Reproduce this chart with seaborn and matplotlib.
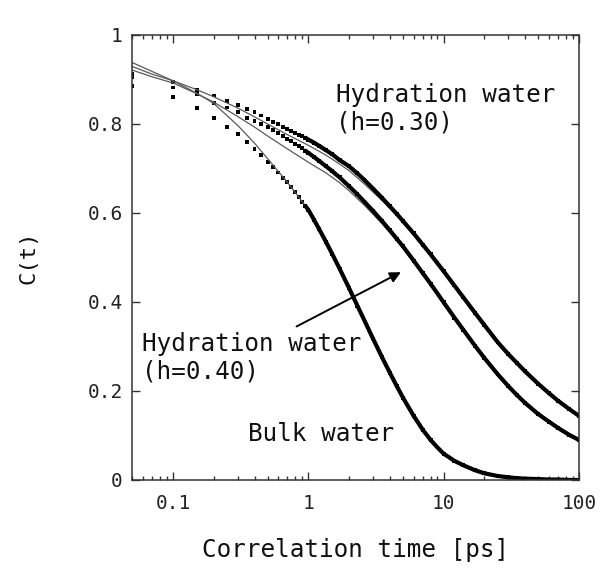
import numpy as np
import pandas as pd
import seaborn as sns
import matplotlib.pyplot as plt
from matplotlib.ticker import FixedLocator, FixedFormatter, LogLocator, NullFormatter

#########################
# VALUES
# MD points: correlation time [ps] and C(t)
t_md = [0.05, 0.10, 0.15, 0.20, 0.25, 0.30, 0.35, 0.40, 0.45, 0.50,
        0.55, 0.60, 0.65, 0.70, 0.75, 0.80, 0.85, 0.90, 0.95, 1.0,
        1.1, 1.2, 1.35, 1.5, 1.7, 2.0, 2.3, 2.6, 3.0, 3.5,
        4.0, 4.5, 5.0, 6.0, 7.0, 8.0, 9.0, 10, 12, 14,
        17, 20, 25, 30, 35, 40, 50, 60, 70, 85, 100]
c_h030 = [0.913, 0.895, 0.877, 0.864, 0.852, 0.843, 0.834, 0.826, 0.819, 0.811,
          0.805, 0.800, 0.794, 0.788, 0.784, 0.780, 0.776, 0.772, 0.769, 0.765,
          0.758, 0.751, 0.741, 0.732, 0.719, 0.705, 0.689, 0.674, 0.655, 0.634,
          0.615, 0.598, 0.582, 0.554, 0.529, 0.507, 0.487, 0.469, 0.437, 0.410,
          0.376, 0.348, 0.310, 0.283, 0.262, 0.244, 0.216, 0.195, 0.178, 0.159, 0.144]
c_h040 = [0.906, 0.882, 0.867, 0.848, 0.837, 0.826, 0.814, 0.807, 0.800, 0.793,
          0.786, 0.779, 0.773, 0.767, 0.762, 0.756, 0.750, 0.745, 0.740, 0.735,
          0.726, 0.717, 0.705, 0.694, 0.680, 0.660, 0.642, 0.625, 0.605, 0.582,
          0.561, 0.542, 0.525, 0.493, 0.465, 0.441, 0.419, 0.399, 0.365, 0.337,
          0.302, 0.274, 0.238, 0.211, 0.190, 0.173, 0.148, 0.131, 0.117, 0.101, 0.090]
c_bulk = [0.885, 0.860, 0.835, 0.813, 0.793, 0.777, 0.760, 0.743, 0.730, 0.715,
          0.703, 0.691, 0.679, 0.669, 0.658, 0.647, 0.635, 0.625, 0.616, 0.607,
          0.585, 0.564, 0.535, 0.508, 0.475, 0.431, 0.392, 0.358, 0.318, 0.276,
          0.241, 0.211, 0.185, 0.144, 0.113, 0.090, 0.073, 0.059, 0.043, 0.033,
          0.022, 0.015, 0.009, 0.006, 0.004, 0.003, 0.002, 0.001, 0.001, 0.000, 0.000]

# fitted curves (thin grey lines)
t_fit = [0.05, 0.07, 0.1, 0.15, 0.2, 0.3, 0.4, 0.5, 0.7, 1.0,
         1.35, 1.7, 2.0, 2.6, 3.5, 4.5, 6, 8, 10, 14,
         20, 30, 40, 60, 100]
fit_h030 = [0.929, 0.912, 0.897, 0.877, 0.861, 0.836, 0.816, 0.800, 0.776, 0.752,
            0.730, 0.710, 0.695, 0.665, 0.628, 0.594, 0.552, 0.506, 0.468, 0.410,
            0.348, 0.284, 0.244, 0.195, 0.144]
fit_h040 = [0.921, 0.906, 0.892, 0.868, 0.849, 0.817, 0.793, 0.773, 0.744, 0.714,
            0.690, 0.668, 0.650, 0.617, 0.576, 0.538, 0.491, 0.440, 0.398, 0.337,
            0.274, 0.211, 0.173, 0.131, 0.091]
fit_bulk = [0.938, 0.918, 0.897, 0.869, 0.846, 0.797, 0.757, 0.722, 0.669, 0.607,
            0.535, 0.475, 0.431, 0.358, 0.276, 0.211, 0.144, 0.090, 0.059, 0.033,
            0.015, 0.006, 0.003, 0.001, 0.000]

x_ticks = [0.1, 1, 10, 100]
x_ticklabels = ['0.1', '1', '10', '100']
y_ticks = [0, 0.2, 0.4, 0.6, 0.8, 1.0]
y_ticklabels = ['0', '0.2', '0.4', '0.6', '0.8', '1']

###########
# DATAFRAMES
names = ['h030', 'h040', 'bulk']
md = pd.DataFrame({'t': t_md * 3,
                   'C': c_h030 + c_h040 + c_bulk,
                   'series': [n for n in names for _ in t_md]})
fit = pd.DataFrame({'t': t_fit * 3,
                    'C': fit_h030 + fit_h040 + fit_bulk,
                    'series': [n for n in names for _ in t_fit]})
dense = md[md['t'] >= 0.95]   # where the md points run together into a thick line

sns.set_style('ticks')
plt.rcParams['font.family'] = ['DejaVu Sans Mono', 'DejaVu Sans']

fig = plt.figure(figsize=(6.14, 5.79), dpi=100)
ax = fig.add_axes([0.2155, 0.171, 0.7275, 0.7686])

black = {n: 'black' for n in names}
grey = {n: '#5a5a5a' for n in names}
sns.lineplot(data=fit, x='t', y='C', hue='series', palette=grey,
             estimator=None, sort=False, linewidth=0.9, legend=False, ax=ax)
sns.lineplot(data=dense, x='t', y='C', hue='series', palette=black,
             estimator=None, sort=False, linewidth=3.0, legend=False, ax=ax)
sns.scatterplot(data=md, x='t', y='C', hue='series', palette=black,
                marker='s', s=8, linewidth=0, legend=False, ax=ax)

ax.set_xscale('log')
ax.set_xlim(0.05, 100)
ax.set_ylim(0, 1)

ax.xaxis.set_major_locator(FixedLocator(x_ticks))
ax.xaxis.set_major_formatter(FixedFormatter(x_ticklabels))
ax.xaxis.set_minor_locator(LogLocator(base=10, subs=np.arange(2, 10)))
ax.xaxis.set_minor_formatter(NullFormatter())
ax.yaxis.set_major_locator(FixedLocator(y_ticks))
ax.yaxis.set_major_formatter(FixedFormatter(y_ticklabels))

ax.tick_params(which='both', direction='in', top=True, right=True, color='#333333', width=1.0)
ax.tick_params(which='major', length=5.5)
ax.tick_params(which='minor', length=3.0)
ax.tick_params(axis='x', which='major', pad=10, labelsize=14, labelcolor='#222222')
ax.tick_params(axis='y', which='major', pad=7, labelsize=14, labelcolor='#222222')
for s in ax.spines.values():
    s.set_color('#333333')
    s.set_linewidth(1.1)

ax.set_xlabel('Correlation time [ps]', fontsize=17.5, color='#111111')
ax.set_ylabel('C(t)', fontsize=16, color='#111111')
ax.xaxis.set_label_coords(0.5, -0.13)
ax.yaxis.set_label_coords(-0.21, 0.5)

ax.text(1.61, 0.892, 'Hydration water\n(h=0.30)', fontsize=17.5, ha='left', va='top', color='#111111')
ax.text(0.0586, 0.333, 'Hydration water\n(h=0.40)', fontsize=17.5, ha='left', va='top', color='#111111')
ax.text(0.358, 0.130, 'Bulk water', fontsize=17.5, ha='left', va='top', color='#111111')

ax.annotate('', xy=(4.83, 0.467), xytext=(0.818, 0.345),
            arrowprops=dict(arrowstyle='-|>', color='black', lw=1.4, mutation_scale=16,
                            shrinkA=0, shrinkB=0))

plt.savefig('out.png', dpi=100)
